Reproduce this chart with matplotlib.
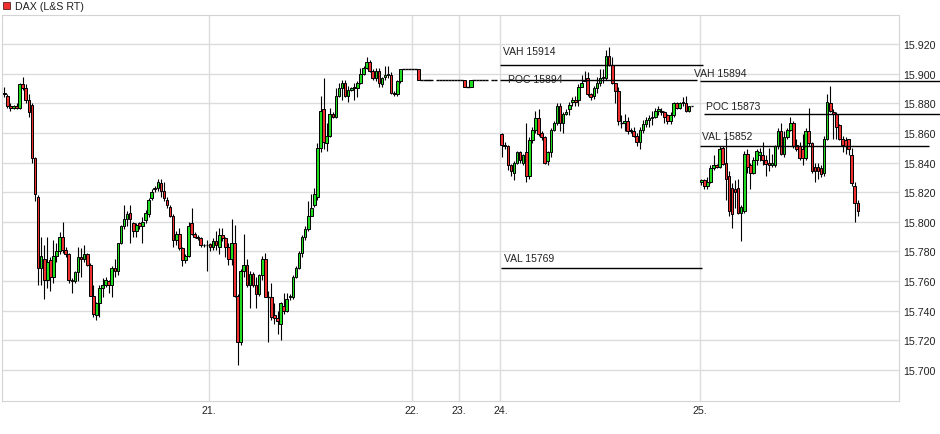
import numpy as np
import matplotlib.pyplot as plt
from matplotlib.patches import Rectangle

plt.rcParams['font.family'] = ['Liberation Sans', 'DejaVu Sans']

# DAX 15-minute candles (open, high, low, close), one list per trading day
day20 = [
    (15887, 15891, 15884, 15886), (15885, 15886, 15877, 15878), (15878, 15880, 15875, 15877),
    (15877, 15879, 15876, 15878), (15878, 15880, 15876, 15877), (15877, 15894, 15876, 15893),
    (15893, 15898, 15889, 15890), (15890, 15893, 15880, 15882), (15882, 15886, 15871, 15874),
    (15879, 15880, 15840, 15843), (15843, 15844, 15814, 15819), (15817, 15818, 15757, 15769),
    (15769, 15790, 15757, 15777), (15775, 15784, 15748, 15761), (15761, 15790, 15755, 15773),
    (15774, 15776, 15753, 15763), (15763, 15788, 15759, 15777), (15777, 15786, 15773, 15780),
    (15780, 15793, 15778, 15790), (15790, 15800, 15779, 15781), (15781, 15783, 15776, 15778),
    (15778, 15779, 15759, 15761), (15761, 15762, 15752, 15760), (15760, 15767, 15759, 15766),
    (15766, 15783, 15760, 15776), (15776, 15782, 15763, 15775), (15775, 15784, 15773, 15778),
    (15778, 15779, 15770, 15771), (15771, 15772, 15750, 15750), (15750, 15757, 15736, 15738),
    (15737, 15746, 15734, 15745), (15745, 15757, 15736, 15755), (15755, 15762, 15749, 15757),
    (15757, 15763, 15756, 15761), (15760, 15761, 15752, 15757), (15757, 15770, 15749, 15769),
    (15769, 15775, 15763, 15767), (15767, 15786, 15764, 15786), (15786, 15798, 15785, 15797),
    (15797, 15811, 15795, 15802), (15802, 15807, 15797, 15805), (15806, 15811, 15786, 15802),
    (15799, 15800, 15790, 15794), (15794, 15799, 15790, 15798), (15799, 15800, 15795, 15797),
    (15797, 15803, 15786, 15800), (15801, 15808, 15799, 15806), (15805, 15816, 15803, 15815),
    (15816, 15822, 15815, 15820), (15822, 15824, 15820, 15823), (15823, 15829, 15821, 15827),
    (15826, 15829, 15817, 15821), (15821, 15827, 15814, 15816), (15815, 15817, 15809, 15811),
    (15810, 15811, 15803, 15804), (15804, 15805, 15783, 15788), (15788, 15794, 15784, 15792),
    (15792, 15796, 15781, 15782), (15782, 15783, 15770, 15774), (15774, 15778, 15772, 15777),
    (15777, 15800, 15776, 15797), (15799, 15809, 15791, 15792), (15792, 15793, 15789, 15790),
    (15790, 15791, 15788, 15789), (15789, 15790, 15783, 15784), (15784, 15785, 15783, 15784),
]
day21 = [
    (15784, 15788, 15767, 15784), (15785, 15786, 15780, 15783), (15783, 15789, 15781, 15787),
    (15787, 15794, 15781, 15784), (15783, 15796, 15778, 15791), (15791, 15796, 15787, 15789),
    (15789, 15790, 15776, 15783), (15783, 15786, 15771, 15775), (15775, 15802, 15771, 15786),
    (15786, 15798, 15749, 15750), (15750, 15751, 15703, 15719), (15719, 15768, 15717, 15767),
    (15767, 15792, 15763, 15771), (15771, 15775, 15756, 15757), (15757, 15767, 15742, 15765),
    (15765, 15766, 15756, 15757), (15757, 15763, 15742, 15751), (15751, 15765, 15750, 15764),
    (15764, 15777, 15761, 15775), (15775, 15779, 15749, 15749), (15749, 15753, 15719, 15749),
    (15749, 15759, 15734, 15736), (15737, 15745, 15731, 15735), (15735, 15740, 15724, 15733),
    (15731, 15746, 15720, 15745), (15743, 15752, 15738, 15740), (15740, 15752, 15739, 15748),
    (15749, 15751, 15747, 15750), (15749, 15764, 15748, 15763), (15763, 15770, 15762, 15769),
    (15769, 15780, 15768, 15779), (15779, 15791, 15776, 15790), (15790, 15797, 15788, 15795),
    (15795, 15814, 15794, 15804), (15804, 15819, 15804, 15809), (15811, 15823, 15810, 15819),
    (15817, 15853, 15815, 15850), (15850, 15885, 15847, 15875), (15876, 15897, 15849, 15854),
    (15853, 15867, 15848, 15858), (15858, 15877, 15857, 15873), (15873, 15874, 15870, 15871),
    (15871, 15890, 15870, 15885), (15885, 15894, 15884, 15890), (15890, 15896, 15882, 15894),
    (15894, 15896, 15884, 15885), (15885, 15892, 15881, 15889), (15889, 15891, 15888, 15890),
    (15890, 15894, 15882, 15891), (15890, 15895, 15884, 15894), (15894, 15904, 15893, 15900),
    (15900, 15905, 15899, 15904), (15904, 15911, 15903, 15908), (15908, 15909, 15901, 15902),
    (15902, 15903, 15896, 15897), (15897, 15904, 15895, 15902), (15902, 15904, 15891, 15894),
    (15893, 15898, 15891, 15897), (15898, 15905, 15896, 15899), (15899, 15905, 15897, 15900),
    (15899, 15901, 15886, 15887), (15887, 15888, 15885, 15886), (15886, 15896, 15885, 15895),
    (15895, 15903, 15894, 15903),
]
# weekend (22./23.): almost no trading, slots listed explicitly
weekend_slots = [130, 131, 132, 133, 134, 135, 136, 137, 138, 139,
                 141, 142, 143, 144, 145, 146, 147, 148, 149, 150, 151, 152,
                 153, 154, 155, 156, 157, 159, 160]
weekend = [
    (15903, 15903, 15903, 15903), (15903, 15903, 15903, 15903), (15903, 15903, 15903, 15903),
    (15903, 15903, 15903, 15903), (15903, 15903, 15903, 15903), (15903, 15903, 15896, 15896),
    (15896, 15896, 15896, 15896), (15896, 15896, 15896, 15896), (15896, 15896, 15896, 15896),
    (15896, 15896, 15896, 15896), (15896, 15896, 15896, 15896), (15896, 15896, 15896, 15896),
    (15896, 15896, 15896, 15896), (15896, 15896, 15896, 15896), (15896, 15896, 15896, 15896),
    (15896, 15896, 15896, 15896), (15896, 15896, 15896, 15896), (15896, 15896, 15896, 15896),
    (15896, 15896, 15896, 15896), (15896, 15896, 15891, 15891), (15891, 15891, 15891, 15891),
    (15891, 15896, 15891, 15896), (15896, 15896, 15896, 15896), (15896, 15896, 15896, 15896),
    (15896, 15896, 15896, 15896), (15896, 15896, 15896, 15896), (15896, 15896, 15896, 15896),
    (15896, 15896, 15896, 15896), (15896, 15896, 15896, 15896),
]
day24 = [
    (15859, 15860, 15844, 15852), (15852, 15854, 15849, 15851), (15851, 15852, 15835, 15838),
    (15838, 15839, 15831, 15834), (15833, 15841, 15828, 15840), (15840, 15848, 15839, 15847),
    (15847, 15848, 15840, 15842), (15840, 15846, 15838, 15845), (15847, 15867, 15827, 15831),
    (15831, 15857, 15829, 15855), (15855, 15864, 15853, 15862), (15862, 15875, 15860, 15870),
    (15870, 15876, 15858, 15859), (15860, 15861, 15855, 15857), (15857, 15858, 15839, 15840),
    (15841, 15848, 15838, 15847), (15847, 15863, 15844, 15862), (15862, 15868, 15861, 15867),
    (15867, 15880, 15865, 15878), (15878, 15880, 15861, 15867), (15867, 15874, 15860, 15873),
    (15873, 15876, 15872, 15874), (15876, 15881, 15872, 15879), (15881, 15884, 15878, 15882),
    (15882, 15885, 15878, 15881), (15882, 15893, 15878, 15891), (15891, 15899, 15891, 15894),
    (15895, 15902, 15895, 15896), (15897, 15901, 15885, 15886), (15886, 15887, 15882, 15884),
    (15885, 15892, 15883, 15890), (15890, 15898, 15887, 15894), (15894, 15903, 15892, 15897),
    (15897, 15903, 15894, 15898), (15897, 15916, 15896, 15912), (15912, 15918, 15905, 15906),
    (15906, 15911, 15893, 15894), (15894, 15894, 15880, 15888), (15888, 15891, 15865, 15868),
    (15867, 15872, 15863, 15867), (15867, 15873, 15861, 15868), (15868, 15871, 15859, 15861),
    (15862, 15863, 15860, 15861), (15861, 15864, 15857, 15858), (15858, 15860, 15851, 15854),
    (15854, 15864, 15849, 15862), (15862, 15869, 15860, 15866), (15866, 15871, 15864, 15869),
    (15869, 15872, 15864, 15870), (15870, 15875, 15865, 15871), (15871, 15877, 15870, 15875),
    (15875, 15878, 15872, 15876), (15875, 15877, 15872, 15874), (15874, 15875, 15867, 15871),
    (15872, 15873, 15866, 15868), (15868, 15874, 15866, 15872), (15872, 15881, 15871, 15880),
    (15880, 15881, 15876, 15877), (15877, 15881, 15876, 15880), (15880, 15884, 15878, 15881),
    (15880, 15885, 15874, 15875), (15875, 15878, 15874, 15878), (15878, 15878, 15878, 15878),
]
day25 = [
    (15827, 15829, 15825, 15828), (15828, 15829, 15822, 15824), (15824, 15830, 15822, 15827),
    (15827, 15838, 15826, 15836), (15836, 15845, 15835, 15838), (15838, 15839, 15836, 15837),
    (15837, 15851, 15836, 15849), (15850, 15851, 15838, 15839), (15840, 15858, 15815, 15829),
    (15831, 15834, 15804, 15807), (15823, 15826, 15796, 15805), (15822, 15828, 15809, 15820),
    (15823, 15829, 15805, 15806), (15806, 15811, 15787, 15810), (15807, 15848, 15806, 15846),
    (15846, 15849, 15833, 15837), (15838, 15840, 15822, 15833), (15833, 15844, 15832, 15842),
    (15842, 15849, 15838, 15848), (15845, 15850, 15841, 15847), (15845, 15854, 15838, 15842),
    (15842, 15845, 15831, 15839), (15840, 15850, 15834, 15838), (15838, 15846, 15837, 15840),
    (15838, 15852, 15837, 15851), (15851, 15863, 15849, 15861), (15861, 15867, 15845, 15846),
    (15846, 15861, 15844, 15857), (15857, 15863, 15856, 15862), (15862, 15871, 15861, 15867),
    (15867, 15868, 15850, 15851), (15852, 15856, 15848, 15849), (15851, 15854, 15842, 15843),
    (15849, 15859, 15838, 15843), (15843, 15863, 15842, 15861), (15861, 15877, 15851, 15853),
    (15853, 15854, 15833, 15834), (15837, 15840, 15827, 15834), (15837, 15840, 15829, 15834),
    (15836, 15838, 15830, 15832), (15833, 15858, 15831, 15856), (15856, 15886, 15855, 15881),
    (15880, 15892, 15874, 15875), (15874, 15876, 15856, 15873), (15873, 15874, 15856, 15864),
    (15865, 15866, 15855, 15856), (15856, 15858, 15847, 15852), (15855, 15857, 15846, 15851),
    (15856, 15856, 15845, 15849), (15845, 15850, 15824, 15826), (15824, 15827, 15800, 15813),
    (15813, 15815, 15804, 15807),
]

day_starts = {'20': 0, '21': 66, '24': 162, '25': 227}
day_ticks = [66.6, 132.9, 148.2, 161.6, 226.7]
day_labels = ['21.', '22.', '23.', '24.', '25.']

# volume profile levels: (label, line y, x from, x to, label x, label y)
levels = [
    ('VAH 15914', 15906, 161.5, 227.6, 162.4, 15915),
    ('POC 15894', 15895.5, 161.5, 225.6, 164.1, 15896.5),
    ('VAL 15769', 15769, 161.8, 227.3, 162.8, 15775.5),
    ('VAH 15894', 15895, 226.6, 304.8, 224.6, 15900.5),
    ('POC 15873', 15872.5, 227.9, 304.8, 228.6, 15878),
    ('VAL 15852', 15851, 226.6, 301.1, 227.3, 15858),
]

green = '#1fdc1f'
red = '#ee3030'

fig = plt.figure(figsize=(9.4, 4.35), dpi=100)
ax = fig.add_axes([2.3 / 940, 1 - 401.7 / 435, 896.4 / 940, 385.7 / 435])


def draw(ax, xs, candles, width=0.85):
    xs = np.asarray(xs, dtype=float)
    o = np.array([k[0] for k in candles], dtype=float)
    h = np.array([k[1] for k in candles], dtype=float)
    l = np.array([k[2] for k in candles], dtype=float)
    c = np.array([k[3] for k in candles], dtype=float)
    ax.vlines(xs, l, h, color='black', lw=0.8, zorder=2)
    flat = c == o
    # dojis as short horizontal strokes
    ax.hlines(o[flat], xs[flat] - width / 2, xs[flat] + width / 2,
              color='black', lw=1, zorder=3)
    body = ~flat
    cols = [green if cc > oo else red for oo, cc in zip(o[body], c[body])]
    ax.bar(xs[body], np.abs(c - o)[body], width=width,
           bottom=np.minimum(o, c)[body], color=cols,
           edgecolor='black', linewidth=0.7, zorder=3)


draw(ax, np.arange(len(day20)) + day_starts['20'], day20)
draw(ax, np.arange(len(day21)) + day_starts['21'], day21)
draw(ax, weekend_slots, weekend, width=1.05)
draw(ax, np.arange(len(day24)) + day_starts['24'], day24)
draw(ax, np.arange(len(day25)) + day_starts['25'], day25)

for name, yv, x0, x1, tx, ty in levels:
    ax.hlines(yv, x0, x1, color='black', lw=1, clip_on=False, zorder=4)
    ax.text(tx, ty, name, fontsize=7.5, color='#222222', va='center', ha='left', zorder=5)

ax.set_xlim(-0.65, 291.3)
ax.set_ylim(15679.2, 15939.6)
ax.set_yticks(np.arange(15700, 15921, 20))
ax.set_yticklabels([f'{v / 1000:.3f}' for v in np.arange(15700, 15921, 20)])
ax.set_xticks(day_ticks)
ax.set_xticklabels(day_labels)
ax.yaxis.tick_right()
ax.tick_params(axis='both', length=0, labelsize=7.7, colors='#222222')
ax.tick_params(axis='y', pad=3)
ax.tick_params(axis='x', pad=3)
ax.grid(True, color='#dcdcdc', lw=1)
ax.set_axisbelow(True)
for s in ax.spines.values():
    s.set_color('#d4d4d4')

fig.patches.append(Rectangle((3.3 / 940, 1 - 9.6 / 435), 7 / 940, 7 / 435,
                             transform=fig.transFigure, facecolor=red,
                             edgecolor='#552222', lw=0.6))
fig.text(15 / 940, 1 - 6.5 / 435, 'DAX (L&S RT)', fontsize=7.7, va='center',
         ha='left', color='#222222')

fig.savefig('out.png', dpi=100)
